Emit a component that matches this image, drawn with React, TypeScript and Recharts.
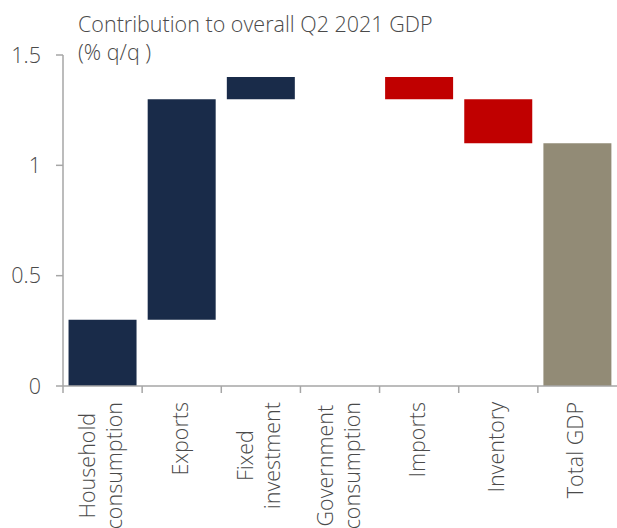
import { Bar, BarChart, Cell, XAxis, YAxis } from "recharts";

const categories = [
  "Household\nconsumption",
  "Exports",
  "Fixed\ninvestment",
  "Government\nconsumption",
  "Imports",
  "Inventory",
  "Total GDP",
];
// contribution of each component, pp of q/q growth
const contributions = [0.3, 1.0, 0.1, 0.0, -0.1, -0.2];
const totalGdp = 1.1;
const yTicks = [0, 0.5, 1, 1.5];

const NAVY = "#192b49";
const RED = "#c00000";
const TOTAL = "#928b76";
const AXIS = "#a6a6a6";
const TEXT = "#4a4a4a";
const FONT = "'Open Sans', 'DejaVu Sans', sans-serif";
const FS = 21.5;

const W = 617;
const H = 528;
const LEFT = 63;
const BAND = (W - LEFT) / categories.length;

const buildData = () => {
  let level = 0;
  const rows = contributions.map((c, i) => {
    const start = level;
    level += c;
    return {
      name: categories[i],
      range: [Math.min(start, level), Math.max(start, level)],
      color: c >= 0 ? NAVY : RED,
    };
  });
  rows.push({ name: categories[6], range: [0, totalGdp], color: TOTAL });
  return rows;
};

let ctx: CanvasRenderingContext2D | null = null;
const measure = (s: string) => {
  if (!ctx) {
    ctx = document.createElement("canvas").getContext("2d");
  }
  if (!ctx) return s.length * 11;
  ctx.font = `300 ${FS}px ${FONT}`;
  return ctx.measureText(s).width;
};

const XTick = (props: any) => {
  const { x, y, payload } = props;
  const lines: string[] = String(payload.value).split("\n");
  const maxW = Math.max(...lines.map(measure));
  const axisY = y - 16;
  const cy = y + maxW / 2;
  const first = 6 - ((lines.length - 1) * 27) / 2;
  return (
    <g>
      <line
        x1={x - BAND / 2}
        x2={x - BAND / 2}
        y1={axisY}
        y2={axisY + 7}
        stroke={AXIS}
        strokeWidth={1.5}
      />
      {lines.map((line, i) => (
        <text
          key={line}
          transform={`translate(${x + first + i * 27},${cy}) rotate(-90)`}
          textAnchor="middle"
          fill={TEXT}
          fontSize={FS}
          fontWeight={300}
          fontFamily={FONT}
        >
          {line}
        </text>
      ))}
    </g>
  );
};

export default function App() {
  const data = buildData();
  return (
    <div style={{ position: "absolute", left: 0, top: 0, width: W, height: H }}>
      <BarChart
        width={W}
        height={H}
        data={data}
        margin={{ top: 55, right: 0, bottom: 0, left: 0 }}
        barCategoryGap="7%"
      >
        <XAxis
          dataKey="name"
          interval={0}
          height={H - 386}
          tick={<XTick />}
          tickLine={false}
          tickSize={7}
          tickMargin={9}
          axisLine={{ stroke: AXIS, strokeWidth: 1.5 }}
        />
        <YAxis
          width={LEFT}
          domain={[0, 1.5]}
          ticks={yTicks}
          tickSize={7}
          tickMargin={15}
          axisLine={{ stroke: AXIS, strokeWidth: 1.5 }}
          tickLine={{ stroke: AXIS, strokeWidth: 1.5 }}
          tick={{ fill: TEXT, fontSize: FS, fontWeight: 300, fontFamily: FONT }}
        />
        <Bar dataKey="range" isAnimationActive={false}>
          {data.map((d) => (
            <Cell key={d.name} fill={d.color} />
          ))}
        </Bar>
      </BarChart>
      <svg
        width={W}
        height={70}
        style={{ position: "absolute", left: 0, top: 0, pointerEvents: "none" }}
      >
        <text x={78} y={32} fill={TEXT} fontSize={FS} fontWeight={300} fontFamily={FONT}>
          Contribution to overall Q2 2021 GDP
        </text>
        <text x={78} y={60} fill={TEXT} fontSize={FS} fontWeight={300} fontFamily={FONT}>
          (% q/q )
        </text>
      </svg>
    </div>
  );
}
